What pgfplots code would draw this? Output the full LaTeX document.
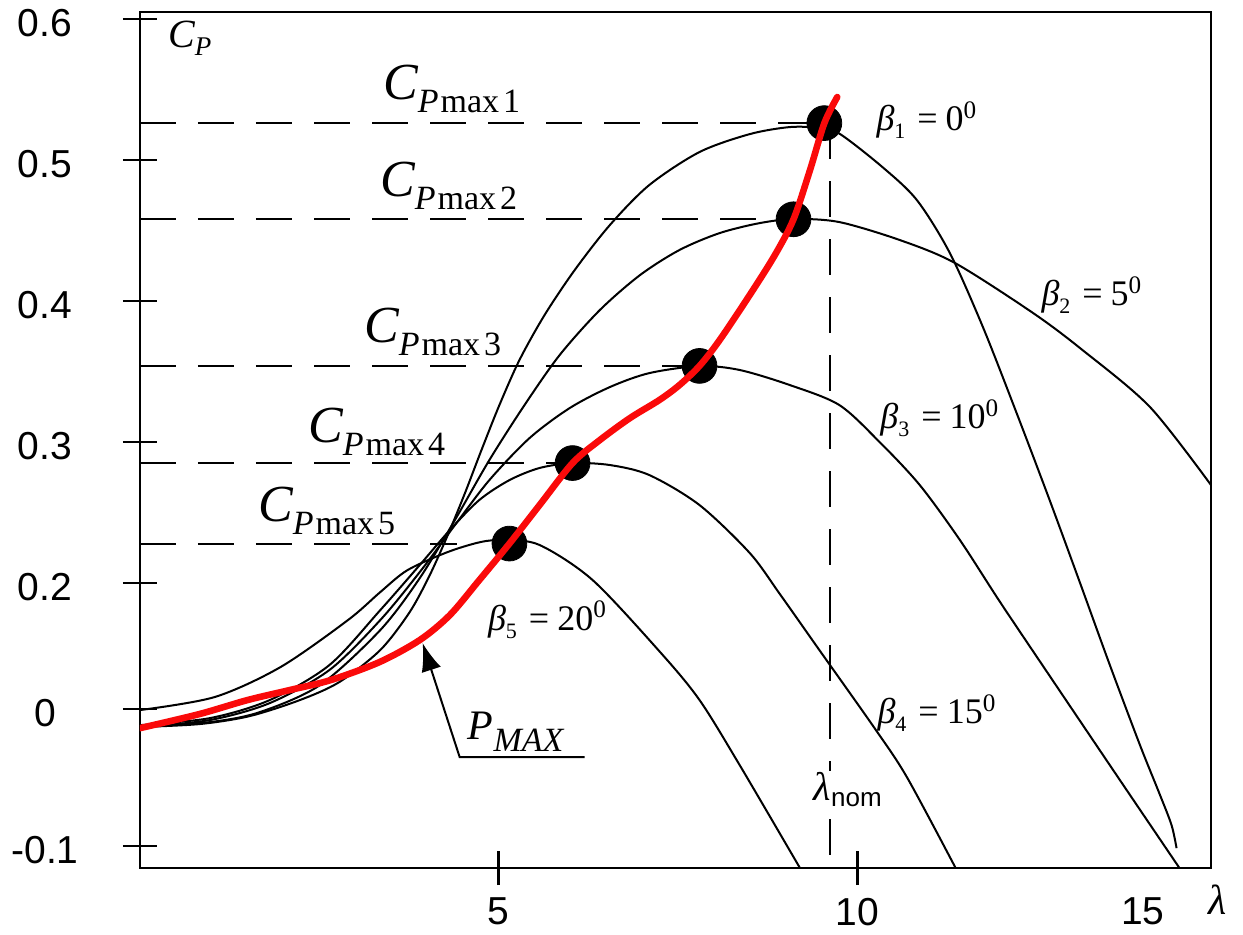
\documentclass[border=0pt]{standalone}
\usepackage{pgfplots}
\pgfplotsset{compat=1.18}
\usetikzlibrary{arrows.meta}
\usepackage{fontspec}
\setmainfont{Liberation Sans}
\newfontfamily\tms{Liberation Serif}

\definecolor{pmaxred}{RGB}{250,10,10}

% C_{P max i} labels
\newcommand{\cpmax}[1]{{\tms\fontsize{26}{26}\selectfont\itshape C\raisebox{-6.5pt}{\fontsize{17}{17}\selectfont\itshape P\kern1pt\upshape max\kern2pt#1}}}
% pitch angle labels
\newcommand{\betalab}[2]{{\tms\fontsize{18}{18}\selectfont\itshape β\raisebox{-4pt}{\upshape\fontsize{11}{11}\selectfont #1}\upshape\hspace{6pt}=\hspace{4pt}#2\textsuperscript{0}}}

\begin{document}
\begin{tikzpicture}
\begin{axis}[
  scale only axis,
  width=535.5pt, height=428pt,
  xmin=0, xmax=14.93,
  ymin=-0.0021, ymax=0.605,
  axis line style={line width=1.3pt},
  tick style={line width=1.3pt, black},
  tick align=center,
  tick pos=left,
  major tick length=17pt,
  xtick={5,10},
  extra x ticks={13.98}, extra x tick labels={15},
  extra x tick style={major tick style={draw=none}},
  % the lower part of the C_P scale is compressed: 0 and -0.1 sit closer to 0.2
  ytick={0.0135,0.1106,0.2,0.3,0.4,0.5,0.6},
  yticklabels={-0.1,0,0.2,0.3,0.4,0.5,0.6},
  y filter/.expression={y<0.2 ? (y<0 ? 0.1106+0.9716*y : 0.2-(0.2-y)*0.4468) : y},
  /pgf/number format/assume math mode=true,
  tick label style={font=\fontsize{19.5}{19.5}\selectfont},
  yticklabel style={anchor=center, xshift=-39pt, yshift=-2pt},
  xticklabel style={yshift=-3pt},
  clip mode=individual,
  every axis plot/.append style={line join=round},
]
\coordinate (SW) at (rel axis cs:0,0);

% C_P(lambda) curves for the five pitch angles
\addplot[black, line width=1pt, smooth] coordinates {
 (0,-0.0131) (0.837,-0.0109) (1.53,-0.0051) (2.23,0.0143) (2.78,0.0429)
 (3.35,0.0937) (3.76,0.154) (4.04,0.2057) (4.29,0.2340) (4.53,0.2638)
 (4.76,0.2943) (5.01,0.3262) (5.29,0.3582) (5.64,0.3901) (6.06,0.4220)
 (6.55,0.4539) (7.10,0.4823) (7.80,0.5057) (8.50,0.5184) (9.06,0.5234)
 (9.48,0.5227) (9.76,0.5184) (10.35,0.4950) (10.83,0.4716) (11.29,0.4340)
 (11.75,0.3816) (12.22,0.3206) (12.68,0.2589) (13.10,0.2007) (13.52,0.0698)
 (13.94,-0.0263) (14.22,-0.0628) (14.38,-0.0847) (14.45,-0.1015)};
\addplot[black, line width=1pt, smooth] coordinates {
 (0,-0.0131) (0.973,-0.0095) (1.67,-0.0022) (2.51,0.0381) (3.35,0.1254)
 (3.90,0.2035) (4.39,0.2447) (4.87,0.2872) (5.36,0.3262) (5.85,0.3617)
 (6.41,0.3936) (6.97,0.4184) (7.52,0.4362) (8.08,0.4482) (8.64,0.4553)
 (9.13,0.4582) (9.75,0.4560) (10.59,0.4433) (11.36,0.4270) (12.45,0.3915)
 (13.14,0.3652) (14.08,0.3248) (14.93,0.2695)};
\addplot[black, line width=1pt, smooth] coordinates {
 (0,-0.0131) (0.973,-0.008) (1.81,0.0095) (2.64,0.0619) (3.35,0.1413)
 (3.90,0.2078) (4.39,0.2411) (4.87,0.2730) (5.43,0.3028) (5.99,0.3241)
 (6.55,0.3390) (7.10,0.3489) (7.80,0.3539) (8.36,0.3511) (9.06,0.3404)
 (9.75,0.3262) (10.31,0.3000) (10.87,0.2695) (11.43,0.2305) (11.99,0.1698)
 (12.72,0.046) (13.66,-0.0518) (14.49,-0.116)};
\addplot[black, line width=1pt, smooth] coordinates {
 (0,-0.0117) (0.973,-0.0066) (1.81,0.0143) (2.64,0.0698) (3.35,0.1571)
 (3.90,0.2128) (4.32,0.2376) (4.73,0.2589) (5.15,0.2730) (5.57,0.2816)
 (6.03,0.2851) (6.55,0.2837) (7.10,0.2766) (7.80,0.2553) (8.50,0.2213)
 (8.92,0.1825) (9.47,0.0937) (10.24,-0.0139) (10.69,-0.0496) (11.37,-0.116)};
\addplot[black, line width=1pt, smooth] coordinates {
 (0,-0.0007) (1.04,0.019) (1.96,0.0667) (2.90,0.1413) (3.35,0.1857)
 (3.73,0.2092) (4.29,0.2220) (4.75,0.2291) (5.08,0.2305) (5.57,0.2270)
 (6.31,0.2021) (7.25,0.0905) (7.80,0.0143) (8.36,-0.0409) (9.20,-0.116)};

% maximum power coefficients
\pgfplotsset{cpdash/.style={black, line width=1pt, dash pattern=on 18pt off 11pt}}
\addplot[cpdash] coordinates {(0,0.5262) (9.54,0.5262)};
\addplot[cpdash] coordinates {(0,0.458) (9.11,0.458)};
\addplot[cpdash] coordinates {(0,0.354) (7.80,0.354)};
\addplot[cpdash] coordinates {(0,0.2851) (6.03,0.2851)};
\addplot[cpdash] coordinates {(0,0.228) (4.42,0.228)};
\addplot[cpdash] coordinates {(9.62,0.5262) (9.62,-0.116)};

\addplot[only marks, mark=*, mark size=8.7pt, black] coordinates {
 (9.54,0.5262) (9.11,0.458) (7.80,0.354) (6.03,0.2851) (5.15,0.228)};

% maximum power point trajectory
\addplot[pmaxred, line width=3.3pt, smooth, line cap=round] coordinates {
 (0,-0.0139) (0.83,-0.0036) (1.50,0.0143) (2.09,0.0302) (2.66,0.046)
 (3.34,0.0746) (3.90,0.1095) (4.32,0.1492) (4.73,0.2021) (5.15,0.228)
 (5.57,0.2553) (6.03,0.2851) (6.41,0.3014) (6.83,0.3170) (7.24,0.3298)
 (7.52,0.3404) (7.80,0.354) (8.08,0.3723) (8.50,0.4043) (8.85,0.4326)
 (9.11,0.458) (9.34,0.4929) (9.54,0.5262) (9.72,0.5447)};

% annotations
\node at (axis cs:0.694,0.5865) {\tms\fontsize{20}{20}\selectfont\itshape C\raisebox{-4pt}{\fontsize{13.5}{13.5}\selectfont P}};
\node at (axis cs:4.345,0.5504) {\cpmax{1}};
\node at (axis cs:4.303,0.4816) {\cpmax{2}};
\node at (axis cs:4.080,0.378) {\cpmax{3}};
\node at (axis cs:3.299,0.3071) {\cpmax{4}};
\node at (axis cs:2.602,0.251) {\cpmax{5}};
\node at (axis cs:10.97,0.5284) {\betalab{1}{0}};
\node at (axis cs:13.27,0.4043) {\betalab{2}{5}};
\node at (axis cs:11.15,0.317) {\betalab{3}{10}};
\node at (axis cs:11.11,0.1078) {\betalab{4}{15}};
\node at (axis cs:5.68,0.1738) {\betalab{5}{20}};
\draw[line width=1pt, -{Latex[length=14pt,width=10pt]}]
  (axis cs:6.199,0.0766) -- (axis cs:4.456,0.0766) -- (axis cs:3.94,0.1574);
\node at (axis cs:5.237,0.0943) {\tms\fontsize{21}{21}\selectfont\itshape P\raisebox{-6pt}{\fontsize{17}{17}\selectfont MAX}};
\node[fill=white, inner sep=1pt] at (axis cs:9.866,0.0532) {{\tms\fontsize{20}{20}\selectfont\itshape λ}\raisebox{-3pt}{\fontsize{13}{13}\selectfont nom}};
\node at (axis cs:15.02,-0.0248) {\tms\fontsize{21}{21}\selectfont\itshape λ};
\end{axis}
\pgfresetboundingbox
\useasboundingbox ([shift={(-70pt,-33pt)}]SW) rectangle ([shift={(551.5pt,434pt)}]SW);
\end{tikzpicture}
\end{document}
